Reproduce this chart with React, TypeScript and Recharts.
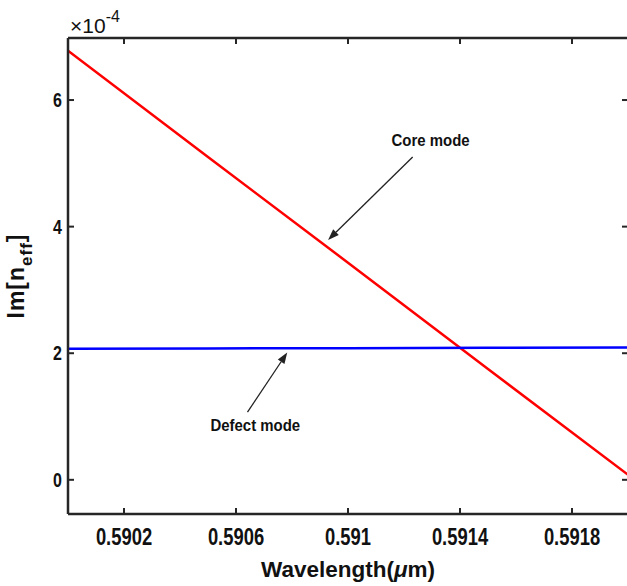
import React from 'react';
import { LineChart, Line, XAxis, YAxis, ReferenceLine, ReferenceDot } from 'recharts';

// wavelength in micrometres
const wavelength = [0.59, 0.5905, 0.591, 0.5915, 0.592];
// Im[n_eff] values
const coreMode = [6.78e-4, 5.1e-4, 3.43e-4, 1.75e-4, 0.08e-4];
const defectMode = [2.07e-4, 2.075e-4, 2.08e-4, 2.085e-4, 2.09e-4];

const xTicks = [0.5902, 0.5906, 0.591, 0.5914, 0.5918];
const yTicks = [0, 2e-4, 4e-4, 6e-4];

const data = wavelength.map((wl, i) => ({ wl, core: coreMode[i], defect: defectMode[i] }));

const FONT = "'Liberation Sans', Arial, sans-serif";
const AXIS = '#262626';
const TICK_LEN = 6;

// MATLAB style: ticks point inward, labels a bit condensed
const BottomTick = (props: any) => {
  const { x, y, payload } = props;
  const axisY = y - 14;
  return (
    <g>
      <line x1={x} y1={axisY} x2={x} y2={axisY - TICK_LEN} stroke={AXIS} strokeWidth={2} />
      <text transform={`translate(${x},${y}) scale(0.8,1)`} textAnchor="middle" dy="0.72em" fontFamily={FONT} fontWeight="bold" fontSize={23} fill="#111">
        {String(payload.value)}
      </text>
    </g>
  );
};

const TopTick = (props: any) => {
  const { x, y } = props;
  const axisY = y + 14;
  return <line x1={x} y1={axisY} x2={x} y2={axisY + TICK_LEN} stroke={AXIS} strokeWidth={2} />;
};

const LeftTick = (props: any) => {
  const { x, y, payload } = props;
  const axisX = x + 6;
  return (
    <g>
      <line x1={axisX} y1={y} x2={axisX + TICK_LEN} y2={y} stroke={AXIS} strokeWidth={2} />
      <text transform={`translate(${x},${y}) scale(0.8,1)`} textAnchor="end" dy="0.36em" fontFamily={FONT} fontWeight="bold" fontSize={20} fill="#111">
        {String(Math.round(payload.value * 1e4))}
      </text>
    </g>
  );
};

const RightTick = (props: any) => {
  const { x, y } = props;
  const axisX = x - 6;
  return <line x1={axisX} y1={y} x2={axisX - TICK_LEN} y2={y} stroke={AXIS} strokeWidth={2} />;
};

const Arrow = (props: any) => {
  const { x1, y1, x2, y2 } = props;
  const ang = Math.atan2(y2 - y1, x2 - x1);
  const len = 11;
  const hw = 4;
  const bx = x2 - len * Math.cos(ang);
  const by = y2 - len * Math.sin(ang);
  const px = -Math.sin(ang) * hw;
  const py = Math.cos(ang) * hw;
  return (
    <g>
      <line x1={x1} y1={y1} x2={bx} y2={by} stroke="#222" strokeWidth={1.3} />
      <polygon points={`${x2},${y2} ${bx + px},${by + py} ${bx - px},${by - py}`} fill="#222" />
    </g>
  );
};

const NoteLabel = (props: any) => {
  const { viewBox, value } = props;
  const cx = viewBox.x + viewBox.width / 2;
  const cy = viewBox.y + viewBox.height / 2;
  return (
    <text transform={`translate(${cx},${cy}) scale(0.88,1)`} textAnchor="middle" dy="0.36em" fontFamily={FONT} fontWeight="bold" fontSize={17} fill="#111">
      {value}
    </text>
  );
};

const XLabel = (props: any) => {
  const { x, y, width } = props.viewBox;
  return (
    <text x={x + width / 2} y={y + 63} textAnchor="middle" fontFamily={FONT} fontWeight="bold" fontSize={22.5} fill="#111">
      Wavelength(<tspan fontStyle="italic">μ</tspan>m)
    </text>
  );
};

const YLabel = (props: any) => {
  const { y, height } = props.viewBox;
  const cx = 24;
  const cy = y + height / 2;
  return (
    <text transform={`translate(${cx},${cy}) rotate(-90)`} textAnchor="middle" fontFamily={FONT} fontWeight="bold" fontSize={23} fill="#111" letterSpacing={1}>
      Im[n<tspan fontSize={17} dy={8}>eff</tspan><tspan dy={-8}>]</tspan>
    </text>
  );
};

const ExpLabel = (props: any) => {
  const { x, y } = props.viewBox;
  return (
    <text x={x + 2} y={y - 4} fontFamily={FONT} fontSize={21} fill="#111">
      ×10<tspan fontSize={16} dy={-11}>-4</tspan>
    </text>
  );
};

export default function App() {
  const yDomain = [-0.54e-4, 6.98e-4];
  return (
    <div style={{ position: 'fixed', left: 0, top: 0, width: 627, height: 586, overflow: 'hidden', background: '#fff' }}>
      <LineChart width={640} height={586} data={data} margin={{ top: 37, right: 11, bottom: 0, left: 0 }}>
        <XAxis
          xAxisId="b"
          dataKey="wl"
          type="number"
          domain={[0.59, 0.592]}
          allowDataOverflow
          ticks={xTicks}
          height={72}
          tickSize={0}
          tickMargin={14}
          tickLine={false}
          tick={<BottomTick />}
          axisLine={{ stroke: AXIS, strokeWidth: 2.5 }}
          label={<XLabel />}
        />
        <XAxis
          xAxisId="t"
          dataKey="wl"
          type="number"
          orientation="top"
          domain={[0.59, 0.592]}
          allowDataOverflow
          ticks={xTicks}
          height={1}
          tickSize={0}
          tickMargin={14}
          tickLine={false}
          tick={<TopTick />}
          axisLine={{ stroke: AXIS, strokeWidth: 2.5 }}
          label={<ExpLabel />}
        />
        <YAxis
          yAxisId="l"
          type="number"
          domain={yDomain}
          allowDataOverflow
          ticks={yTicks}
          width={68}
          tickSize={0}
          tickMargin={6}
          tickLine={false}
          tick={<LeftTick />}
          axisLine={{ stroke: AXIS, strokeWidth: 2.5 }}
          label={<YLabel />}
        />
        <YAxis
          yAxisId="r"
          orientation="right"
          type="number"
          domain={yDomain}
          allowDataOverflow
          ticks={yTicks}
          width={1}
          tickSize={0}
          tickMargin={6}
          tickLine={false}
          tick={<RightTick />}
          axisLine={{ stroke: '#bbb', strokeWidth: 1.5 }}
        />
        <Line xAxisId="b" yAxisId="l" dataKey="core" stroke="#ff0000" strokeWidth={2.5} dot={false} isAnimationActive={false} />
        <Line xAxisId="b" yAxisId="l" dataKey="defect" stroke="#0000ff" strokeWidth={2.5} dot={false} isAnimationActive={false} />
        <ReferenceLine
          xAxisId="b"
          yAxisId="l"
          segment={[{ x: 0.591231, y: 5.1e-4 }, { x: 0.590929, y: 3.79e-4 }]}
          shape={<Arrow />}
        />
        <ReferenceLine
          xAxisId="b"
          yAxisId="l"
          segment={[{ x: 0.590641, y: 1.07e-4 }, { x: 0.590783, y: 2.01e-4 }]}
          shape={<Arrow />}
        />
        <ReferenceDot
          xAxisId="b"
          yAxisId="l"
          x={0.591295}
          y={5.37e-4}
          r={0}
          fill="none"
          stroke="none"
          label={<NoteLabel value="Core mode" />}
        />
        <ReferenceDot
          xAxisId="b"
          yAxisId="l"
          x={0.590669}
          y={0.87e-4}
          r={0}
          fill="none"
          stroke="none"
          label={<NoteLabel value="Defect mode" />}
        />
      </LineChart>
    </div>
  );
}
